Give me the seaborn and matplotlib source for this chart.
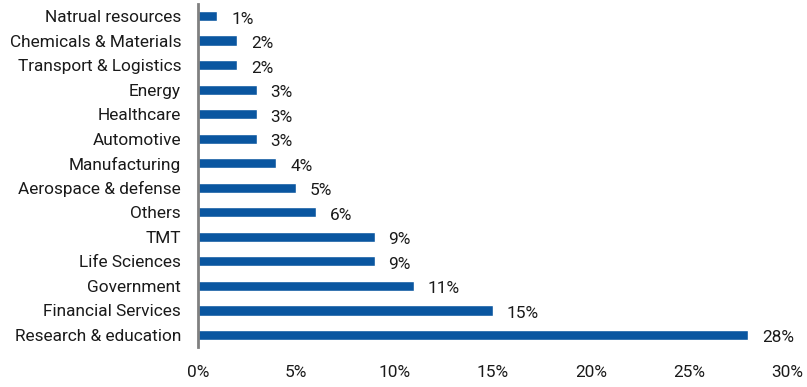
import matplotlib
matplotlib.use("Agg")
import matplotlib.pyplot as plt
import seaborn as sns
import pandas as pd

categories = ["Natrual resources", "Chemicals & Materials", "Transport & Logistics",
              "Energy", "Healthcare", "Automotive", "Manufacturing", "Aerospace & defense",
              "Others", "TMT", "Life Sciences", "Government", "Financial Services",
              "Research & education"]
values = [1, 2, 2, 3, 3, 3, 4, 5, 6, 9, 9, 11, 15, 28]
xticks = [0, 5, 10, 15, 20, 25, 30]

sns.set_theme(style="white")
plt.rcParams['font.family'] = ['Roboto', 'DejaVu Sans']

df = pd.DataFrame({"cat": categories, "val": values})

fig = plt.figure(figsize=(8.07, 3.87), dpi=100)
ax = fig.add_axes([0.245, 0.103, 0.731, 0.887])
sns.barplot(data=df, x="val", y="cat", orient="h", color="#0A56A0",
            saturation=1, width=0.42, ax=ax)

for i, v in enumerate(values):
    ax.text(v + 0.7, i + 0.12, f"{v}%", va="center", ha="left", fontsize=12.4, color="#1a1a1a")

ax.set_xlim(0, 30)
ax.set_ylim(13.5, -0.5)
ax.set_xticks(xticks)
ax.set_xticklabels([f"{t}%" for t in xticks], fontsize=12.4, color="#1a1a1a")
ax.tick_params(axis="y", labelsize=12.4, labelcolor="#1a1a1a", length=0, pad=12)
ax.tick_params(axis="x", length=0, pad=13)
ax.set_xlabel("")
ax.set_ylabel("")
for s in ["top", "right", "bottom"]:
    ax.spines[s].set_visible(False)
ax.spines["left"].set_color("#808080")
ax.spines["left"].set_linewidth(2)

fig.savefig("out.png", dpi=100)
